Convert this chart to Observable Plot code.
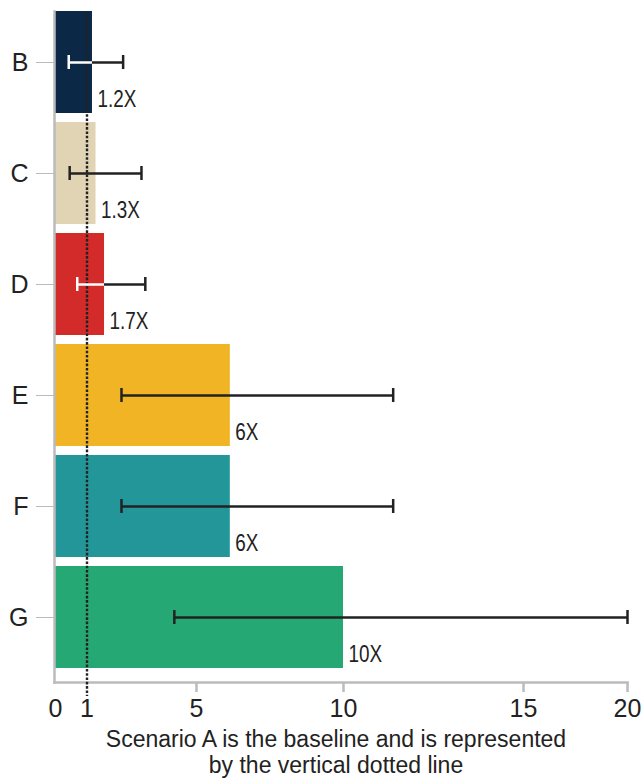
<!DOCTYPE html>
<html><head><meta charset="utf-8">
<script src="https://cdn.jsdelivr.net/npm/d3@7"></script>
<script src="https://cdn.jsdelivr.net/npm/@observablehq/plot@0.6"></script>
<style>
body{margin:0;background:#fff;}
#chart{color:#222;}
#chart svg{display:block;}
.caption{font-family:"Liberation Sans",Arial,sans-serif;font-size:23px;line-height:25.8px;color:#222;text-align:center;margin-top:-3px;padding-left:46px;padding-right:18px;}
</style></head><body>
<div id="chart"></div>
<div class="caption">Scenario A is the baseline and is represented<br>by the vertical dotted line</div>
<script>
const categories = ["B","C","D","E","F","G"];
const values = [1.2, 1.33, 1.64, 6.15, 6.15, 10];
const valueLabels = ["1.2X","1.3X","1.7X","6X","6X","10X"];
const lows = [0.42, 0.45, 0.69, 2.26, 2.26, 4.19];
const highs = [2.32, 2.99, 3.13, 11.38, 11.38, 20];
const xTicks = [0, 1, 5, 10, 15, 20];
const baseline = 1;
const colors = ["#0b2847","#e0d4b5","#d32a2a","#f0b424","#23969a","#25a874"];
const lightErrorOn = ["B","D"];

const data = categories.map((c,i)=>({cat:c, value:values[i], label:valueLabels[i], low:lows[i], high:highs[i], light: lightErrorOn.includes(c)}));
const blackSegs = data.map(d => ({cat:d.cat, x1: d.light ? Math.max(d.value, d.low) : d.low, x2: d.high}));
const whiteSegs = data.filter(d => d.light).map(d => ({cat:d.cat, x1:d.low, x2:Math.min(d.value, d.high)}));
const lowCaps = data.map(d => ({cat:d.cat, x:d.low, c: d.light ? "white" : "#222"}));
const highCaps = data.map(d => ({cat:d.cat, x:d.high}));
const whiteDotted = data.filter(d => d.cat === "B").map(d => ({cat:d.cat, x:baseline}));

const capInset = 44;
const dots = "2.6,1.7";
const chart = Plot.plot({
  width: 644, height: 730,
  marginTop: 11, marginBottom: 48, marginLeft: 54, marginRight: 17,
  style: {fontFamily: "Liberation Sans, Arial, sans-serif", overflow: "visible", background: "white"},
  x: {type: "linear", domain: xTicks, range: [55, 86.5, 196, 343, 523, 627]},
  y: {domain: categories, paddingInner: 0.081, paddingOuter: 0.063, align: 0},
  color: {domain: categories, range: colors},
  marks: [
    Plot.barX(data, {x: "value", y: "cat", fill: "cat"}),
    Plot.frame({anchor: "left", stroke: "#bbb", strokeWidth: 2.5}),
    Plot.frame({anchor: "bottom", stroke: "#bbb", strokeWidth: 2.5}),
    Plot.axisY({tickSize: 18, tickPadding: 8, fontSize: 25, stroke: "#bbb", strokeWidth: 1, label: null}),
    Plot.axisX({ticks: [5,10,15,20], tickSize: 10, tickFormat: () => "", stroke: "#bbb", strokeWidth: 2.5, label: null}),
    Plot.axisX({ticks: xTicks, tickSize: 0, tickPadding: 17, fontSize: 25, label: null}),
    Plot.ruleX([baseline], {x: d => d, stroke: "#222", strokeWidth: 2.4, strokeDasharray: dots, insetBottom: -14}),
    Plot.ruleX(whiteDotted, {x: "x", y: "cat", stroke: "white", strokeWidth: 2.4, strokeDasharray: dots}),
    Plot.ruleY(blackSegs, {y: "cat", x1: "x1", x2: "x2", stroke: "#222", strokeWidth: 2.5}),
    Plot.ruleY(whiteSegs, {y: "cat", x1: "x1", x2: "x2", stroke: "white", strokeWidth: 2.5}),
    Plot.tickX(lowCaps, {x: "x", y: "cat", stroke: "c", strokeWidth: 2.5, insetTop: capInset, insetBottom: capInset}),
    Plot.tickX(highCaps, {x: "x", y: "cat", stroke: "#222", strokeWidth: 2.5, insetTop: capInset, insetBottom: capInset}),
    Plot.text(data, {x: "value", y: "cat", text: "label", textAnchor: "start", dx: 5, dy: 37, fontSize: 23, fill: "#222"})
  ]
});
document.getElementById("chart").appendChild(chart);
// narrow the value labels horizontally (reference uses a condensed face)
chart.querySelectorAll("text").forEach(el => {
  if (valueLabels.includes(el.textContent) && el.closest("g") && el.closest("g").getAttribute("aria-label") === "text") {
    const w = el.getComputedTextLength();
    el.setAttribute("textLength", (w * 0.82).toFixed(1));
    el.setAttribute("lengthAdjust", "spacingAndGlyphs");
  }
});
</script>
</body></html>
